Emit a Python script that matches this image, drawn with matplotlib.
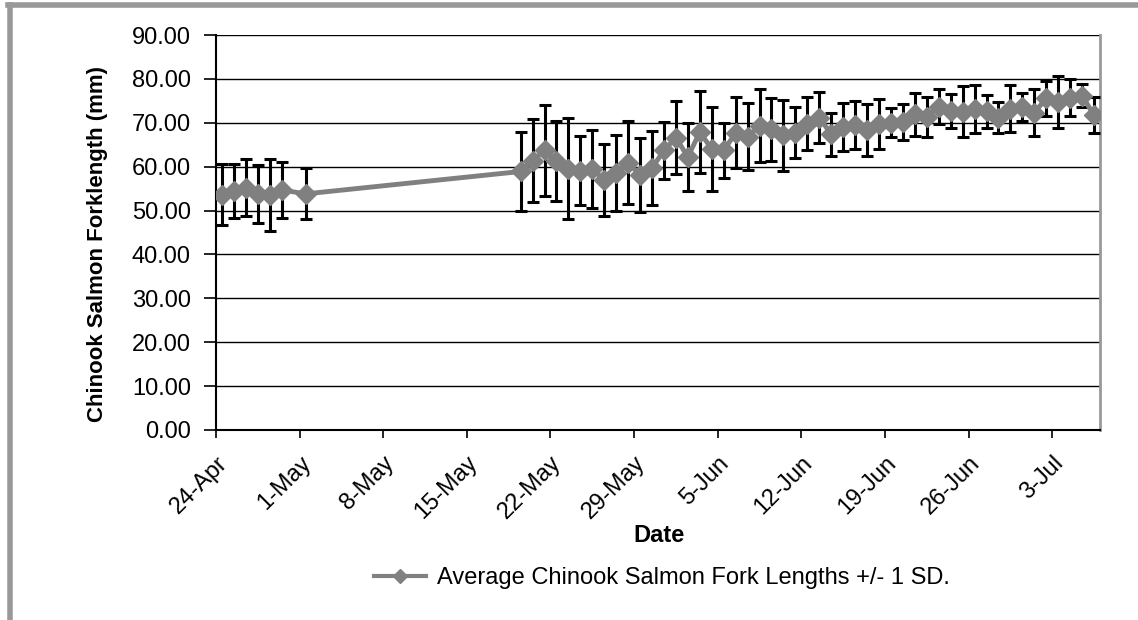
import numpy as np
import matplotlib
matplotlib.use("Agg")
import matplotlib.pyplot as plt
import matplotlib.dates as mdates
from matplotlib.lines import Line2D

plt.rcParams['font.family'] = ['Liberation Sans', 'DejaVu Sans']

# sampling dates (year is arbitrary)
dates = (["2008-04-24", "2008-04-25", "2008-04-26", "2008-04-27", "2008-04-28",
          "2008-04-29", "2008-05-01"]
         + [str(d) for d in np.arange(np.datetime64("2008-05-19"), np.datetime64("2008-07-07"))])

mean_len = [53.6, 54.4, 55.2, 53.7, 53.5, 54.7, 53.8,
            58.9, 61.4, 63.7, 61.3, 59.5, 59.1, 59.4, 57.0, 58.5, 60.9,
            58.1, 59.7, 63.7, 66.6, 62.2, 67.9, 64.0, 63.7, 67.7, 66.8,
            69.3, 68.5, 67.2, 67.7, 69.8, 71.2, 67.4, 69.1, 69.5, 68.4,
            69.7, 70.0, 70.2, 71.9, 71.3, 73.7, 72.6, 72.5, 73.1, 72.6,
            71.2, 73.2, 73.6, 72.3, 75.6, 74.7, 75.7, 76.2, 71.7]
sd_len = [7.0, 6.2, 6.5, 6.6, 8.2, 6.4, 5.8,
          8.9, 9.4, 10.4, 9.2, 11.5, 7.9, 8.9, 8.2, 8.7, 9.4,
          8.4, 8.5, 6.5, 8.3, 7.7, 9.3, 9.5, 6.2, 8.1, 7.6,
          8.3, 7.1, 8.1, 5.8, 6.0, 5.7, 4.9, 5.5, 5.5, 5.9,
          5.7, 3.3, 4.1, 4.9, 4.5, 4.0, 3.9, 5.8, 5.5, 3.8,
          3.6, 5.4, 3.1, 5.3, 4.0, 6.0, 4.2, 2.7, 4.1]

y_ticks = [0, 10, 20, 30, 40, 50, 60, 70, 80, 90]

# points sit in the middle of each day bin, like the Excel date axis
x = np.array(dates, dtype="datetime64[D]") + np.timedelta64(12, "h")
x = mdates.date2num(x.astype("datetime64[ms]").astype(object))

FS = 17

fig = plt.figure(figsize=(11.38, 6.20), dpi=100)
ax = fig.add_axes([216 / 1138, 1 - 430 / 620, (1100 - 216) / 1138, (430 - 35) / 620])

ax.errorbar(x, mean_len, yerr=sd_len, fmt="none", ecolor="black",
            elinewidth=2.2, capsize=4.5, capthick=2.2, zorder=3)
ax.plot(x, mean_len, color="#808080", lw=3.5, marker="D", markersize=10,
        markerfacecolor="#808080", markeredgecolor="#808080", zorder=4)

start = mdates.date2num(np.datetime64("2008-04-24").astype("datetime64[ms]").astype(object))
ax.set_xlim(start, start + 74)
ax.set_ylim(0, 90)
ax.set_yticks(y_ticks)
ax.set_yticklabels([f"{v:.2f}" for v in y_ticks], fontsize=FS)
ax.yaxis.grid(True, color="black", lw=1)
ax.set_axisbelow(True)

wk = np.arange(start, start + 74, 7)
ax.set_xticks(wk)
ax.set_xticklabels([f"{mdates.num2date(v).day}-{mdates.num2date(v).strftime('%b')}" for v in wk],
                   rotation=45, ha="right", rotation_mode="anchor", fontsize=FS)
ax.tick_params(axis="y", direction="out", length=9, width=1.2, color="black", pad=9)
ax.tick_params(axis="x", direction="out", length=6, width=1.2, color="black", pad=10)

ax.spines["top"].set_visible(False)
ax.spines["right"].set_color("#999999")
ax.spines["right"].set_linewidth(2)
ax.spines["left"].set_linewidth(1.5)
ax.spines["bottom"].set_linewidth(1.5)

ax.set_ylabel("Chinook Salmon Forklength (mm)", fontsize=16, fontweight="bold")
ax.yaxis.set_label_coords((108 - 216) / 884, 0.47)
ax.set_xlabel("Date", fontsize=FS, fontweight="bold")
ax.xaxis.set_label_coords((659 - 216) / 884, (430 - 524) / 395)

handle = Line2D([], [], color="#808080", lw=3, marker="D", markersize=7)
fig.legend([handle], ["Average Chinook Salmon Fork Lengths +/- 1 SD."],
           loc="center", bbox_to_anchor=(662 / 1138, 1 - 578 / 620), frameon=False,
           fontsize=FS, handlelength=2.2, handletextpad=0.5)

# outer chart frame (top and left edges visible)
fig.add_artist(Line2D([10 / 1138, 10 / 1138], [0, 1 - 5 / 620], color="#999999", lw=4,
                      transform=fig.transFigure))
fig.add_artist(Line2D([8 / 1138, 1], [1 - 5 / 620, 1 - 5 / 620], color="#999999", lw=4,
                      transform=fig.transFigure))

fig.savefig("out.png", dpi=100)
